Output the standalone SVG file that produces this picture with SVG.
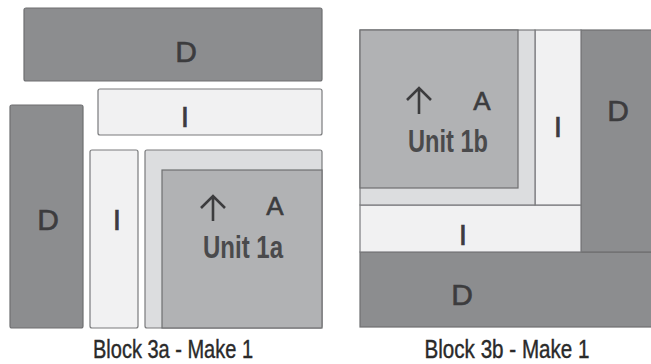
<svg xmlns="http://www.w3.org/2000/svg" width="651" height="364" viewBox="0 0 651 364">
<style>
.d{fill:#8c8d8f;stroke:#6e6f71;stroke-width:1.2}
.a{fill:#b1b2b4;stroke:#6e6f71;stroke-width:1.2}
.i{fill:#f1f1f2;stroke:#7a7b7d;stroke-width:1.2}
.s{fill:#dcdddf;stroke:#7a7b7d;stroke-width:1.2}
.t{font-family:"Liberation Sans",Arial,sans-serif;font-size:30px;fill:#3c3c3e;stroke:#3c3c3e;stroke-width:0.6;text-anchor:middle}
.u{font-family:"Liberation Sans Narrow","Liberation Sans",Arial,sans-serif;font-weight:bold;font-size:31px;fill:#4a4a4c;text-anchor:middle}
.l{font-family:"Liberation Sans Narrow","Liberation Sans",Arial,sans-serif;font-size:25px;fill:#2a2a2a;stroke:#2a2a2a;stroke-width:0.4;text-anchor:middle}
.ar{fill:none;stroke:#3c3c3e;stroke-width:2.6}
</style>
<rect width="651" height="364" fill="#ffffff"/>
<g id="block3a">
  <g id="a-D-top"><rect class="d" x="24" y="8" width="298" height="73" rx="2"/><text class="t" x="186" y="62">D</text></g>
  <g id="a-I-horiz"><rect class="i" x="98" y="89" width="224" height="46" rx="2"/><text class="t" x="185" y="127">I</text></g>
  <g id="a-D-left"><rect class="d" x="10" y="105" width="73" height="223" rx="2"/><text class="t" x="48" y="230">D</text></g>
  <g id="a-I-vert"><rect class="i" x="90" y="150" width="48" height="178" rx="2"/><text class="t" x="117" y="230">I</text></g>
  <g id="unit1a">
    <rect class="s" x="145" y="150" width="177" height="178" rx="2"/>
    <rect class="a" x="162" y="170" width="160" height="158"/>
    <path class="ar" d="M213 221V197M201 208L213 196L225 208"/>
    <text class="t" x="275" y="215" style="font-size:26px">A</text>
    <text class="u" x="243" y="258" textLength="80" lengthAdjust="spacingAndGlyphs">Unit 1a</text>
  </g>
  <text class="l" x="173" y="358" textLength="160" lengthAdjust="spacingAndGlyphs">Block 3a - Make 1</text>
</g>
<g id="block3b">
  <g id="b-D-bottom"><rect class="d" x="360" y="252" width="295" height="75"/><text class="t" x="462" y="305">D</text></g>
  <g id="b-D-right"><rect class="d" x="581" y="30" width="74" height="222"/><text class="t" x="618" y="121">D</text></g>
  <g id="b-I-horiz"><rect class="i" x="360" y="205" width="221" height="47"/><text class="t" x="463" y="245">I</text></g>
  <g id="b-I-vert"><rect class="i" x="535" y="30" width="46" height="175"/><text class="t" x="558" y="137">I</text></g>
  <g id="unit1b">
    <rect class="s" x="360" y="30" width="175" height="175"/>
    <rect class="a" x="360" y="30" width="158" height="158"/>
    <path class="ar" d="M419 114V89M407 100L419 88L431 100"/>
    <text class="t" x="482" y="110" style="font-size:26px">A</text>
    <text class="u" x="448" y="152" textLength="80" lengthAdjust="spacingAndGlyphs">Unit 1b</text>
  </g>
  <text class="l" x="507" y="358" textLength="165" lengthAdjust="spacingAndGlyphs">Block 3b - Make 1</text>
</g>
</svg>
